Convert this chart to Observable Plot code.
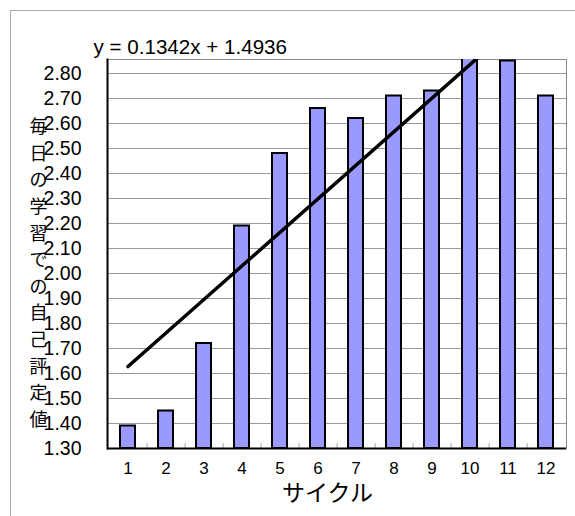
<!DOCTYPE html>
<html>
<head>
<meta charset="utf-8">
<script src="https://cdn.jsdelivr.net/npm/d3@7"></script>
<script src="https://cdn.jsdelivr.net/npm/@observablehq/plot@0.6"></script>
<style>
  body { margin: 0; background: #fff; }
  #wrap { position: relative; width: 575px; height: 516px; overflow: hidden; }
  #outer { position: absolute; left: 10px; top: 10px; width: 700px; height: 700px; border: 1px solid #aaa; pointer-events: none; }
</style>
</head>
<body>
<div id="wrap"></div>
<script>
// ---- data ----
const cycles = [1, 2, 3, 4, 5, 6, 7, 8, 9, 10, 11, 12];
const values = [1.39, 1.45, 1.72, 2.19, 2.48, 2.66, 2.62, 2.71, 2.73, 2.86, 2.85, 2.71];
const yTicks = [1.3, 1.4, 1.5, 1.6, 1.7, 1.8, 1.9, 2.0, 2.1, 2.2, 2.3, 2.4, 2.5, 2.6, 2.7, 2.8];
const yMin = 1.3, yMax = 2.856;
const slope = 0.1342, intercept = 1.4936;
const equation = "y = 0.1342x + 1.4936";
const xTitle = "サイクル";
const yTitle = "毎日の学習での自己評定値";

const data = cycles.map((c, i) => ({cycle: c, value: values[i]}));
const trend = [cycles[0], cycles[cycles.length - 1]].map(c => ({cycle: c, value: slope * c + intercept}));
const boundaries = cycles.slice(0, -1);

const W = 575, H = 516, mL = 107, mR = 9, mT = 59, mB = 68;
const half = (W - mL - mR) / cycles.length / 2;
const sans = "'Liberation Sans', Arial, sans-serif";
const cjk = "'Noto Sans CJK JP', sans-serif";

const chart = Plot.plot({
  width: W, height: H,
  marginLeft: mL, marginRight: mR, marginTop: mT, marginBottom: mB,
  style: {fontFamily: sans, background: "white", color: "black"},
  x: {type: "band", domain: cycles, paddingInner: 0.6, paddingOuter: 0.3, label: null},
  y: {domain: [yMin, yMax], label: null},
  marks: [
    Plot.ruleY(yTicks, {y: d => d, stroke: "#999", strokeWidth: 1}),
    Plot.frame({stroke: "#888", strokeWidth: 1}),
    Plot.barY(data, {x: "cycle", y1: yMin, y2: "value", fill: "#9999ff", stroke: "#000", strokeWidth: 2, clip: true}),
    Plot.tickX(boundaries, {x: d => d, dx: half, insetTop: H - mT - mB - 5, stroke: "#aaa", strokeWidth: 1}),
    Plot.ruleY([yMin], {stroke: "#000", strokeWidth: 2}),
    Plot.frame({anchor: "left", stroke: "#000", strokeWidth: 2}),
    Plot.line(trend, {x: "cycle", y: "value", stroke: "#000", strokeWidth: 3.5, clip: true}),
    Plot.axisY(yTicks, {tickSize: 0, tickPadding: 26, tickFormat: d3.format(".2f"), fontSize: 19.5, fill: "#000", label: null}),
    Plot.axisX({tickSize: 0, tickPadding: 13, fontSize: 17, fill: "#000", label: null}),
    Plot.text([equation], {frameAnchor: "top-left", textAnchor: "start", dx: -14, dy: -20, fontSize: 20.6, fontFamily: sans, fill: "#000"}),
    Plot.text([yTitle], {frameAnchor: "left", text: d => Array.from(d).join("\n"), textAnchor: "middle", dx: -69, dy: 17, lineHeight: 1.48, fontSize: 18, fontFamily: cjk, fill: "#000"}),
    Plot.text([xTitle], {frameAnchor: "bottom", dx: -9.5, dy: 52, fontSize: 23, lineHeight: 1, fontFamily: cjk, fill: "#000"})
  ]
});

const wrap = document.getElementById("wrap");
wrap.appendChild(chart);
const outer = document.createElement("div");
outer.id = "outer";
wrap.appendChild(outer);
</script>
</body>
</html>
